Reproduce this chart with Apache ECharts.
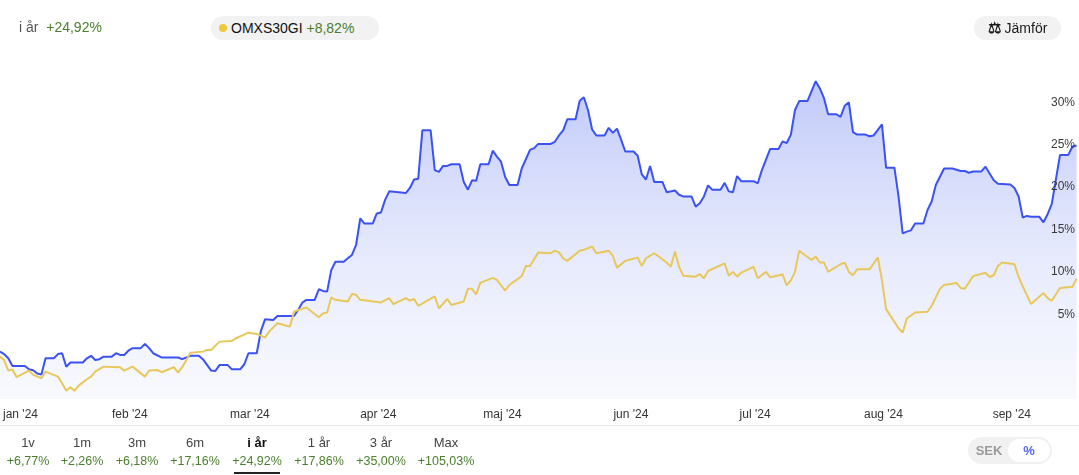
<!DOCTYPE html>
<html>
<head>
<meta charset="utf-8" />
<title>i år</title>
<script src="https://cdn.jsdelivr.net/npm/echarts@6/dist/echarts.min.js"></script>
<style>
  body { margin: 0; background: #fff; font-family: "Liberation Sans", Arial, sans-serif; }
  #wrap { position: relative; width: 1079px; height: 475px; overflow: hidden; }
  #chart { position: absolute; left: 0; top: 0; width: 1079px; height: 475px; }
  .pill { position: absolute; top: 16px; height: 24px; line-height: 24px; background: #f2f2f2; border-radius: 12px; font-size: 14px; color: #1a1a1a; white-space: nowrap; }
  .green { color: #4a7f2c; }
  .tab { position: absolute; width: 70px; margin-left: -35px; text-align: center; font-size: 13px; }
  .tab .n { position: absolute; top: 0; width: 100%; color: #444; }
  .tab .p { position: absolute; top: 19px; width: 100%; color: #4a7f2c; font-size: 12.5px; }
</style>
</head>
<body>
<div id="wrap">
  <div id="chart"></div>
  <!-- legend upptill -->
  <div style="position:absolute;left:19px;top:19px;font-size:14px;color:#555;">i år&nbsp;&nbsp;<span class="green">+24,92%</span></div>
  <div class="pill" style="left:211px;width:168px;">
    <span style="display:inline-block;width:8px;height:8px;border-radius:4px;background:#f0c93a;margin:0 4px 1px 8px;"></span><span style="color:#111;">OMXS30GI</span> <span class="green">+8,82%</span>
  </div>
  <div class="pill" style="left:974px;width:87px;text-align:center;">
    <span style="font-size:15px;font-weight:bold;">⚖</span> Jämför
  </div>
  <!-- perioder -->
  <div style="position:absolute;left:0;top:425px;width:1079px;height:1px;background:#e9e9e9;"></div>
  <div id="tabs"></div>
  <div style="position:absolute;left:234px;top:472px;width:46px;height:2px;background:#222;"></div>
  <div style="position:absolute;left:968px;top:437px;width:84px;height:27px;border-radius:14px;background:#f1f1f1;">
    <div style="position:absolute;left:0;top:0;width:42px;line-height:27px;text-align:center;font-size:13px;font-weight:bold;color:#9b9b9b;">SEK</div>
    <div style="position:absolute;left:40px;top:2px;width:42px;height:23px;border-radius:12px;background:#fff;line-height:23px;text-align:center;font-size:13px;font-weight:bold;color:#5468f0;">%</div>
  </div>
</div>
<script type="text/javascript">
// perioder och avkastning
var tabNames = ['1v', '1m', '3m', '6m', 'i år', '1 år', '3 år', 'Max'];
var tabValues = ['+6,77%', '+2,26%', '+6,18%', '+17,16%', '+24,92%', '+17,86%', '+35,00%', '+105,03%'];
var tabX = [28, 82, 137, 195, 257, 319, 381, 446];

var monthNames = ['jan', 'feb', 'mar', 'apr', 'maj', 'jun', 'jul', 'aug', 'sep', 'okt', 'nov', 'dec'];
var yTicks = [5, 10, 15, 20, 25, 30];

// aktien (blå)
var stockDates = [
  '2024-01-01','2024-01-02','2024-01-03','2024-01-04','2024-01-07','2024-01-08','2024-01-09','2024-01-10','2024-01-11','2024-01-12',
  '2024-01-14','2024-01-15','2024-01-16','2024-01-17','2024-01-18','2024-01-21','2024-01-22','2024-01-23','2024-01-24','2024-01-25',
  '2024-01-26','2024-01-28','2024-01-29','2024-01-30','2024-01-31','2024-02-01','2024-02-02','2024-02-04','2024-02-05','2024-02-06',
  '2024-02-07','2024-02-09','2024-02-13','2024-02-14','2024-02-15','2024-02-16','2024-02-18','2024-02-19','2024-02-21','2024-02-22',
  '2024-02-23','2024-02-25','2024-02-26','2024-02-28','2024-02-29','2024-03-01','2024-03-03','2024-03-04','2024-03-05','2024-03-07',
  '2024-03-08','2024-03-12','2024-03-13','2024-03-14','2024-03-15','2024-03-17','2024-03-18','2024-03-19','2024-03-20','2024-03-21',
  '2024-03-22','2024-03-24','2024-03-25','2024-03-26','2024-03-27','2024-03-28','2024-03-29','2024-03-31','2024-04-01','2024-04-02',
  '2024-04-03','2024-04-04','2024-04-08','2024-04-09','2024-04-10','2024-04-11','2024-04-12','2024-04-14','2024-04-15','2024-04-16',
  '2024-04-17','2024-04-18','2024-04-19','2024-04-21','2024-04-22','2024-04-23','2024-04-24','2024-04-25','2024-04-26','2024-04-28',
  '2024-04-29','2024-04-30','2024-05-01','2024-05-02','2024-05-03','2024-05-05','2024-05-06','2024-05-08','2024-05-09','2024-05-10',
  '2024-05-13','2024-05-14','2024-05-15','2024-05-16','2024-05-17','2024-05-19','2024-05-20','2024-05-21','2024-05-22','2024-05-23',
  '2024-05-24','2024-05-26','2024-05-27','2024-05-28','2024-05-29','2024-05-30','2024-05-31','2024-06-02','2024-06-03','2024-06-04',
  '2024-06-05','2024-06-06','2024-06-07','2024-06-09','2024-06-10','2024-06-12','2024-06-13','2024-06-14','2024-06-16','2024-06-17',
  '2024-06-18','2024-06-19','2024-06-20','2024-06-21','2024-06-23','2024-06-24','2024-06-25','2024-06-26','2024-06-27','2024-06-28',
  '2024-07-01','2024-07-02','2024-07-03','2024-07-05','2024-07-07','2024-07-08','2024-07-09','2024-07-10','2024-07-11','2024-07-12',
  '2024-07-14','2024-07-16','2024-07-17','2024-07-18','2024-07-19','2024-07-21','2024-07-22','2024-07-23','2024-07-24','2024-07-25',
  '2024-07-26','2024-07-28','2024-07-29','2024-07-30','2024-08-01','2024-08-02','2024-08-04','2024-08-05','2024-08-06','2024-08-07',
  '2024-08-08','2024-08-09','2024-08-11','2024-08-12','2024-08-13','2024-08-14','2024-08-16','2024-08-18','2024-08-20','2024-08-21',
  '2024-08-22','2024-08-23','2024-08-25','2024-08-26','2024-08-28','2024-08-29','2024-09-01','2024-09-02','2024-09-03','2024-09-04',
  '2024-09-05','2024-09-06','2024-09-08','2024-09-09','2024-09-10','2024-09-11','2024-09-13','2024-09-15','2024-09-16','2024-09-17'
];
var stockValues = [
  0.6, 0.3, -0.2, -1.1, -1.1, -1.5, -1.6, -2.0, -2.1, -0.2,
  -0.2, 0.3, 0.4, -1.2, -0.7, -0.7, -0.2, 0.1, -0.4, -0.3,
  0.0, 0.0, 0.4, 0.2, 0.2, 0.7, 1.0, 1.0, 1.5, 1.0,
  0.4, -0.1, -0.1, -0.3, -0.1, 0.1, 0.1, -0.3, -1.65, -1.7,
  -1.0, -1.0, -1.5, -1.5, -0.9, 0.4, 0.4, 3.0, 4.4, 4.33,
  4.8, 4.8, 5.5, 6.37, 6.69, 6.69, 7.95, 7.75, 7.67, 10.2,
  11.2, 11.2, 11.6, 12.0, 13.2, 16.3, 15.7, 15.7, 16.9, 17.0,
  18.5, 19.5, 19.3, 19.9, 20.9, 21.0, 26.7, 26.7, 22.0, 21.8,
  22.5, 22.5, 22.7, 22.7, 20.6, 19.7, 20.8, 20.75, 22.7, 22.7,
  24.3, 23.6, 23.0, 21.2, 20.25, 20.25, 22.2, 24.4, 24.6, 25.1,
  25.1, 25.35, 26.1, 26.7, 28.0, 28.0, 30.2, 30.6, 29.1, 26.8,
  26.1, 26.1, 27.0, 26.4, 26.9, 25.6, 24.2, 24.2, 23.7, 21.5,
  20.9, 22.5, 20.6, 20.6, 19.4, 19.6, 19.1, 18.9, 18.9, 17.7,
  18.1, 18.9, 20.2, 19.7, 19.7, 20.5, 19.5, 19.4, 21.3, 20.7,
  20.7, 20.45, 22.0, 24.5, 24.5, 25.4, 25.2, 26.2, 29.1, 30.15,
  30.15, 32.5, 31.65, 30.5, 28.6, 28.6, 28.3, 29.6, 30.0, 26.5,
  26.2, 26.2, 26.0, 26.1, 27.4, 22.3, 22.3, 18.9, 14.55, 14.75,
  14.9, 15.7, 15.7, 17.3, 18.3, 20.25, 22.2, 22.2, 21.9, 21.9,
  21.7, 21.85, 21.85, 22.4, 20.8, 20.4, 20.3, 19.9, 18.9, 16.4,
  16.6, 16.5, 16.5, 15.85, 16.8, 18.0, 23.8, 23.8, 24.8, 24.9
];

// OMXS30GI (gul)
var indexDates = [
  '2024-01-01','2024-01-02','2024-01-03','2024-01-04','2024-01-05','2024-01-08','2024-01-09','2024-01-11','2024-01-12','2024-01-15',
  '2024-01-16','2024-01-17','2024-01-18','2024-01-19','2024-01-20','2024-01-22','2024-01-23','2024-01-24','2024-01-26','2024-01-30',
  '2024-01-31','2024-02-02','2024-02-05','2024-02-06','2024-02-08','2024-02-09','2024-02-12','2024-02-13','2024-02-14','2024-02-16',
  '2024-02-19','2024-02-20','2024-02-21','2024-02-23','2024-02-26','2024-02-27','2024-03-01','2024-03-03','2024-03-05','2024-03-06',
  '2024-03-08','2024-03-11','2024-03-12','2024-03-13','2024-03-15','2024-03-18','2024-03-19','2024-03-20','2024-03-21','2024-03-22',
  '2024-03-25','2024-03-26','2024-03-27','2024-03-28','2024-04-02','2024-04-04','2024-04-05','2024-04-08','2024-04-09','2024-04-10',
  '2024-04-11','2024-04-15','2024-04-16','2024-04-18','2024-04-19','2024-04-22','2024-04-23','2024-04-24','2024-04-25','2024-04-26',
  '2024-04-29','2024-04-30','2024-05-02','2024-05-03','2024-05-06','2024-05-07','2024-05-08','2024-05-10','2024-05-13','2024-05-14',
  '2024-05-15','2024-05-16','2024-05-17','2024-05-20','2024-05-21','2024-05-23','2024-05-24','2024-05-27','2024-05-28','2024-05-29',
  '2024-05-31','2024-06-03','2024-06-04','2024-06-05','2024-06-07','2024-06-10','2024-06-11','2024-06-12','2024-06-13','2024-06-14',
  '2024-06-17','2024-06-18','2024-06-19','2024-06-20','2024-06-24','2024-06-25','2024-06-26','2024-06-27','2024-06-28','2024-07-01',
  '2024-07-02','2024-07-04','2024-07-05','2024-07-08','2024-07-09','2024-07-10','2024-07-11','2024-07-12','2024-07-15','2024-07-16',
  '2024-07-17','2024-07-18','2024-07-19','2024-07-22','2024-07-23','2024-07-24','2024-07-25','2024-07-26','2024-07-29','2024-07-31',
  '2024-08-01','2024-08-02','2024-08-05','2024-08-06','2024-08-07','2024-08-09','2024-08-12','2024-08-13','2024-08-15','2024-08-16',
  '2024-08-19','2024-08-20','2024-08-21','2024-08-23','2024-08-26','2024-08-27','2024-08-28','2024-08-29','2024-08-30','2024-09-02',
  '2024-09-03','2024-09-04','2024-09-06','2024-09-09','2024-09-10','2024-09-11','2024-09-13','2024-09-16','2024-09-17'
];
var indexValues = [
  0.0, -0.4, -1.65, -1.5, -2.43, -1.65, -2.16, -2.55, -1.77, -2.36,
  -3.14, -4.04, -3.61, -4.04, -3.42, -2.67, -2.36, -1.77, -1.18, -1.25,
  -1.65, -1.18, -2.36, -1.65, -1.57, -1.84, -1.25, -1.89, -1.25, 0.47,
  0.59, 0.79, 0.79, 1.77, 1.85, 2.17, 2.83, 2.68, 2.24, 2.95,
  3.93, 3.54, 5.3, 5.5, 5.8, 4.65, 5.1, 5.2, 7.0, 6.7,
  6.5, 7.4, 7.3, 6.7, 6.4, 6.9, 6.2, 6.9, 6.6, 6.8,
  6.0, 7.1, 5.7, 6.8, 6.1, 6.5, 8.0, 8.0, 7.35, 8.7,
  9.3, 9.05, 7.8, 8.45, 9.5, 10.7, 10.7, 12.3, 12.2, 12.5,
  12.3, 11.6, 11.3, 12.5, 12.6, 13.0, 12.2, 12.5, 11.9, 10.5,
  11.3, 11.7, 10.7, 11.6, 12.2, 11.1, 10.6, 12.4, 10.6, 9.55,
  9.43, 9.75, 9.25, 10.1, 11.0, 9.55, 10.0, 9.43, 9.9, 10.6,
  9.25, 10.0, 9.36, 9.7, 8.4, 9.0, 10.0, 12.5, 11.4, 11.8,
  11.1, 11.1, 10.0, 10.9, 11.1, 10.0, 9.6, 10.3, 10.3, 11.7,
  9.0, 5.6, 3.35, 2.83, 4.5, 5.2, 5.3, 6.0, 8.0, 8.45,
  8.7, 8.1, 8.0, 9.5, 9.9, 9.4, 9.6, 10.7, 11.1, 10.9,
  9.4, 8.3, 6.2, 7.5, 6.9, 6.6, 8.1, 8.25, 9.2
];

// flikar nedtill
var tabsHtml = '';
for (var i = 0; i < tabNames.length; i++) {
  var bold = tabNames[i] === 'i år' ? ' style="font-weight:bold;color:#111;"' : '';
  tabsHtml += '<div class="tab" style="left:' + tabX[i] + 'px;top:435px;">'
    + '<div class="n"' + bold + '>' + tabNames[i] + '</div>'
    + '<div class="p">' + tabValues[i] + '</div></div>';
}
document.getElementById('tabs').innerHTML = tabsHtml;

function pairs(dates, vals) {
  return dates.map(function (d, i) { return [d, vals[i]]; });
}

var myChart = echarts.init(document.getElementById('chart'));
var option = {
  animation: false,
  grid: { left: 0, right: 0, top: 60, bottom: 76, outerBoundsMode: 'none', containLabel: false },
  xAxis: {
    type: 'time',
    min: '2024-01-01',
    max: '2024-09-17 14:00',
    splitNumber: 9,
    minInterval: 28 * 24 * 3600 * 1000,
    axisLine: { show: false },
    axisTick: { show: false },
    splitLine: { show: false },
    axisLabel: {
      color: '#333',
      fontSize: 12,
      margin: 10,
      showMinLabel: true,
      alignMinLabel: 'left',
      padding: [0, 0, 0, 3],
      fontFamily: 'Liberation Sans',
      formatter: function (val) {
        var d = new Date(val);
        return monthNames[d.getMonth()] + " '" + String(d.getFullYear()).slice(2);
      }
    }
  },
  yAxis: {
    type: 'value',
    position: 'right',
    min: -5,
    max: 35,
    interval: 5,
    z: 10,
    axisLine: { show: false },
    axisTick: { show: false },
    splitLine: { show: false },
    axisLabel: {
      inside: true,
      margin: 4,
      color: '#3a3a3a',
      fontSize: 12,
      fontFamily: 'Liberation Sans',
      formatter: function (v) {
        return yTicks.indexOf(v) >= 0 ? v + '%' : '';
      }
    }
  },
  series: [
    {
      name: 'OMXS30GI',
      type: 'line',
      data: pairs(indexDates, indexValues),
      showSymbol: false,
      lineStyle: { color: '#e8c85c', width: 2 },
      z: 2
    },
    {
      name: 'i år',
      type: 'line',
      data: pairs(stockDates, stockValues),
      showSymbol: false,
      lineStyle: { color: '#3a52f4', width: 2 },
      areaStyle: {
        origin: 'start',
        color: new echarts.graphic.LinearGradient(0, 0, 0, 1, [
          { offset: 0, color: 'rgba(150,165,246,0.85)' },
          { offset: 0.55, color: 'rgba(205,212,249,0.7)' },
          { offset: 1, color: 'rgba(240,242,253,0.6)' }
        ])
      },
      z: 1
    }
  ]
};
myChart.setOption(option);
</script>
</body>
</html>
